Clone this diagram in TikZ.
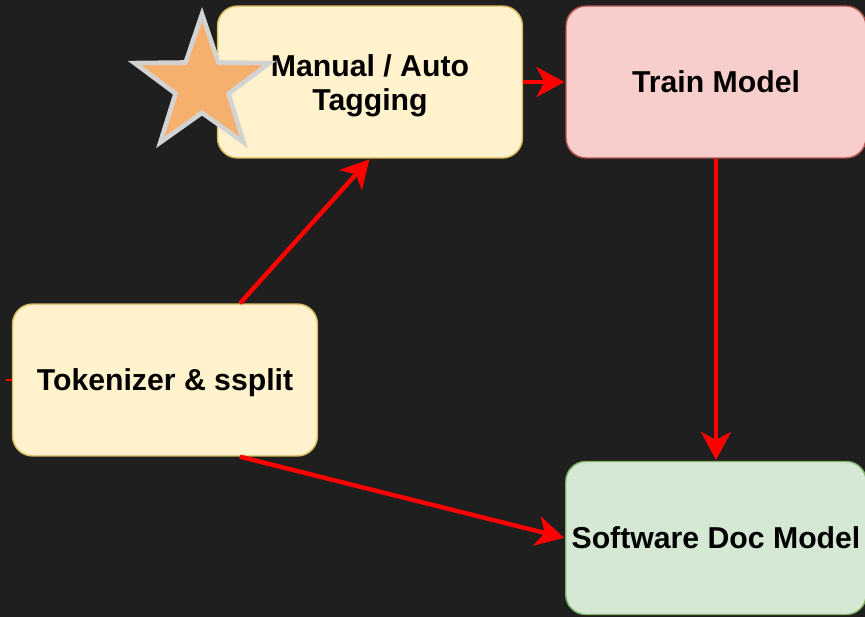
\documentclass[tikz,border=0pt]{standalone}
\usepackage{fontspec}
\setmainfont{Liberation Sans}
\usetikzlibrary{shapes.geometric,arrows.meta}

\definecolor{bgdark}{HTML}{1F1F1F}
\definecolor{yellowfill}{HTML}{FFF2CC}
\definecolor{yellowline}{HTML}{D6B656}
\definecolor{redfill}{HTML}{F8CECC}
\definecolor{redline}{HTML}{B85450}
\definecolor{greenfill}{HTML}{D5E8D4}
\definecolor{greenline}{HTML}{82B366}
\definecolor{starfill}{HTML}{F4B06C}
\definecolor{starline}{HTML}{D3D3D3}

\tikzset{>=Stealth}

\begin{document}
\begin{tikzpicture}[x=0.02cm, y=-0.02cm,
    box/.style={draw, rounded corners=0.4cm, line width=0.8pt, minimum width=6.1cm, minimum height=3.04cm,
      align=center, font=\fontsize{17.2}{19.5}\selectfont\bfseries, text=black},
    flow/.style={draw=red, line width=2.5pt, shorten >=0.5pt, arrows={-Stealth[length=0.56cm, width=0.6cm, inset=0.16cm, red]}}]
      \fill[bgdark] (0,0) rectangle (865,617);
      \useasboundingbox (0,0) rectangle (865,617);

      \node[box, fill=yellowfill, draw=yellowline, text height=36.4pt] (tag) at (370,82) {Manual / Auto\\Tagging};
      \node[box, fill=redfill, draw=redline, minimum width=6cm] (train) at (716,82) {Train Model};
      \node[box, fill=yellowfill, draw=yellowline, text height=16pt] (tok) at (165,380) {Tokenizer \& ssplit};
      \node[box, fill=greenfill, draw=greenline, minimum width=6cm, minimum height=3.06cm] (doc) at (716,538) {Software Doc Model};

      % star marker on top of the tagging box
      \node[star, star points=5, star point ratio=2.55, minimum size=2.84cm, inner sep=0pt,
        fill=starfill, draw=starline, line width=2.6pt] (mark) at (202,85) {};

      \coordinate (in) at (6,380);
      \draw[red, line width=1.2pt] (in) -- (tok.west);
      \draw[flow] (tag) -- (train);
      \draw[flow] (train) -- (doc);
      \draw[flow] ([xshift=1.5cm]tok.north) -- (tag.south);
      \draw[flow] ([xshift=1.5cm]tok.south) -- (doc.west);
\end{tikzpicture}
\end{document}
